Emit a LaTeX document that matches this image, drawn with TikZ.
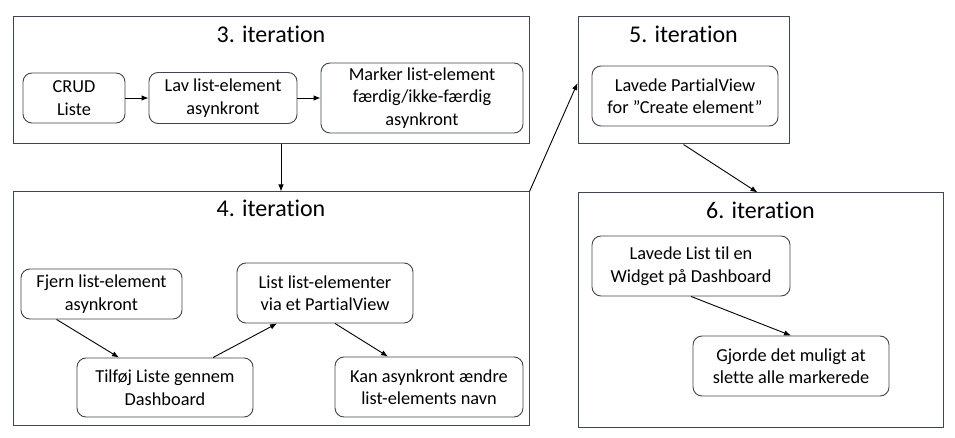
\documentclass[tikz,border=0pt]{standalone}
\usepackage{fontspec}
\setmainfont{Carlito}[Ligatures={NoCommon,NoContextual}]
\usetikzlibrary{positioning, arrows.meta}
\definecolor{framegray}{RGB}{62,70,80}

\tikzset{
  iterbox/.style={draw=framegray, line width=1pt, inner sep=0pt},
  ititle/.style={font=\fontsize{24}{28}\selectfont, inner sep=0pt},
  task/.style={draw=framegray, line width=0.9pt, rounded corners=9pt, align=center,
    inner sep=0pt, font=\fontsize{18.3}{22.5}\selectfont},
  flow/.style={-{Latex[length=7pt,width=5.5pt]}, line width=0.9pt, black}
}

\begin{document}
\begin{tikzpicture}[x=1pt, y=-1pt]
			\useasboundingbox (0,0) rectangle (955,438);
			
			% iterationer
			\node[iterbox, minimum width=516pt, minimum height=127pt] (b3) at (271,80.5) {};
			\node[iterbox, minimum width=516pt, minimum height=233pt] (b4) at (271,308.5) {};
			\node[iterbox, minimum width=211pt, minimum height=127pt] (b5) at (683.5,80.5) {};
			\node[iterbox, minimum width=365pt, minimum height=234pt] (b6) at (760.5,310) {};
			
			\node[ititle, anchor=base] (t3) at ([yshift=-26pt]b3.north) {3. iteration};
			\node[ititle, anchor=base] (t4) at ([yshift=-25pt]b4.north) {4. iteration};
			\node[ititle, anchor=base] (t5) at ([yshift=-26pt]b5.north) {5. iteration};
			\node[ititle, anchor=base] (t6) at ([yshift=-26pt]b6.north) {6. iteration};
			
			% 3. iteration
			\node[task, minimum width=102pt, minimum height=50pt] (crud) at (74,98) {CRUD\\Liste};
			\node[task, minimum width=148pt, minimum height=51pt] (lav) at (223,98) {Lav list-element\\asynkront};
			\node[task, minimum width=202pt, minimum height=70pt] (marker) at (422,98) {Marker list-element\\færdig/ikke-færdig\\asynkront};
			
			% 4. iteration
			\node[task, minimum width=161pt, minimum height=50pt] (fjern) at (101.5,294) {Fjern list-element\\asynkront};
			\node[task, minimum width=176pt, minimum height=59pt] (tilfoj) at (165,387.5) {Tilføj Liste gennem\\Dashboard};
			\node[task, minimum width=176pt, minimum height=60pt] (listpv) at (325,293) {List list-elementer\\via et PartialView};
			\node[task, minimum width=188pt, minimum height=60pt] (kan) at (429,387) {Kan asynkront ændre\\list-elements navn};
			
			% 5. iteration
			\node[task, minimum width=186pt, minimum height=60pt] (partial) at (685,96) {Lavede PartialView\\for ”Create element”};
			
			% 6. iteration
			\node[task, minimum width=198pt, minimum height=60pt] (widget) at (691,266) {Lavede List til en\\Widget på Dashboard};
			\node[task, minimum width=196pt, minimum height=60pt] (gjorde) at (791,366) {Gjorde det muligt at\\slette alle markerede};
			
			
			\draw[flow] (crud) -- (lav);
			\draw[flow] (lav) -- (marker);
			\draw[flow] ([xshift=-45pt]fjern.south) -- ([xshift=-46pt]tilfoj.north);
			\draw[flow] ([xshift=48pt]tilfoj.north) -- ([xshift=-48pt]listpv.south);
			\draw[flow] ([xshift=10pt]listpv.south) -- ([xshift=-41pt]kan.north);
			\draw[flow] (widget.south) -- (gjorde.north);
			
			\draw[flow] ([xshift=10pt]b3.south) -- ([xshift=10pt]b4.north);
			\draw[flow] (b4.north east) -- ([yshift=-2.5pt]b5.west);
			\draw[flow] (b5.south) -- ([xshift=-3pt]b6.north);
			
		\end{tikzpicture}
\end{document}
